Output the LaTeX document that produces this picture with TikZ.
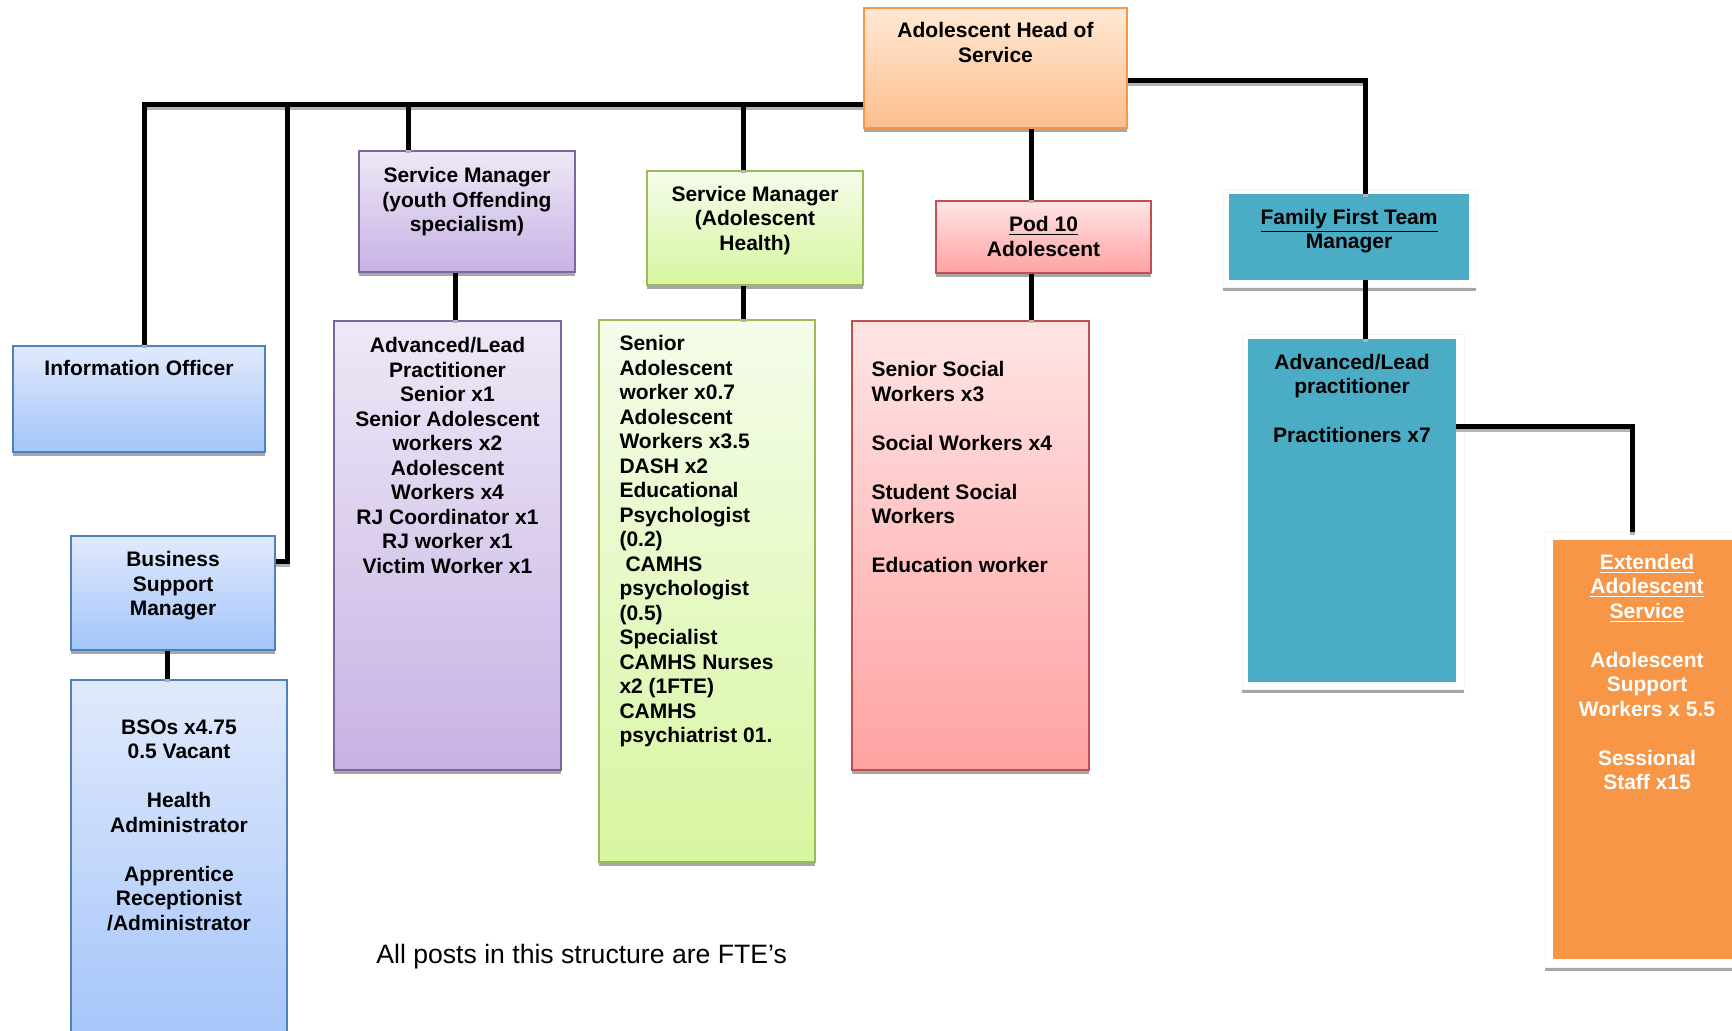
\documentclass[tikz,border=0pt]{standalone}
\usepackage{fontspec}
\setmainfont{Liberation Sans}
\usetikzlibrary{fit}
\definecolor{headTop}{RGB}{255,232,212}
\definecolor{headBot}{RGB}{252,190,140}
\definecolor{headLine}{RGB}{247,150,70}
\definecolor{blueTop}{RGB}{224,234,252}
\definecolor{blueBot}{RGB}{164,196,250}
\definecolor{blueLine}{RGB}{79,129,189}
\definecolor{purTop}{RGB}{238,232,246}
\definecolor{purBot}{RGB}{199,178,228}
\definecolor{purLine}{RGB}{128,100,162}
\definecolor{grnTop}{RGB}{245,252,234}
\definecolor{grnBot}{RGB}{215,246,160}
\definecolor{grnLine}{RGB}{155,187,89}
\definecolor{pnkTop}{RGB}{255,228,228}
\definecolor{pnkBot}{RGB}{255,162,162}
\definecolor{pnkLine}{RGB}{192,80,77}
\definecolor{teal}{RGB}{75,172,198}
\definecolor{easOrange}{RGB}{247,150,70}
\begin{document}
\begin{tikzpicture}[x=0.5pt,y=-0.5pt,
  shadowed/.style={preaction={fill=black!35,transform canvas={yshift=-2pt}}},
  box/.style={draw,line width=0.9pt,inner sep=0pt,shadowed},
  headbox/.style={box,draw=headLine,top color=headTop,bottom color=headBot},
  bluebox/.style={box,draw=blueLine,top color=blueTop,bottom color=blueBot},
  purbox/.style={box,draw=purLine,top color=purTop,bottom color=purBot},
  grnbox/.style={box,draw=grnLine,top color=grnTop,bottom color=grnBot},
  pnkbox/.style={box,draw=pnkLine,top color=pnkTop,bottom color=pnkBot},
  framebox/.style={inner sep=0pt,fill=white,draw=black!4,line width=0.3pt,shadowed},
  tealbox/.style={inner sep=0pt,fill=teal},
  orangebox/.style={inner sep=0pt,fill=easOrange},
  txt/.style={font=\fontsize{10.5pt}{12.25pt}\selectfont\bfseries,align=center,inner sep=0pt,anchor=north},
  ltxt/.style={font=\fontsize{10.5pt}{12.25pt}\selectfont\bfseries,align=left,inner sep=0pt,anchor=north west},
  conn/.style={line width=2.5pt,line join=miter,preaction={draw=black!30,line width=2.5pt,transform canvas={yshift=-1.5pt}}}
]
\useasboundingbox (0,0) rectangle (1732,1030);

% boxes
\node[headbox,fit={(864,8)(1127,128)}] (head) {};
\node[bluebox,fit={(13,346)(265,452)}] (info) {};
\node[bluebox,fit={(71,536)(275,650)}] (bsm) {};
\node[bluebox,fit={(71,680)(287,1045)}] (bso) {};
\node[purbox,fit={(359,151)(575,272)}] (smyo) {};
\node[purbox,fit={(334,321)(561,770)}] (pb) {};
\node[grnbox,fit={(647,171)(863,285)}] (gsm) {};
\node[grnbox,fit={(599,320)(815,862)}] (gb) {};
\node[pnkbox,fit={(936,201)(1151,273)}] (pod) {};
\node[pnkbox,fit={(852,321)(1089,770)}] (pink) {};
\node[framebox,fit={(1223,189)(1476,287)}] (fftf) {};
\node[tealbox,fit={(1229,194)(1469,280)}] (fft) {};
\node[framebox,fit={(1242,334)(1464,689)}] (fftbf) {};
\node[tealbox,fit={(1248,339)(1456,682)}] (fftb) {};
\node[framebox,fit={(1545,532)(1745,967)}] (easf) {};
\node[orangebox,fit={(1553,540)(1745,959)}] (eas) {};

% texts
\node[txt] (headT) at ([yshift=-7.6pt]head.north) {Adolescent Head of\\Service};
\node[txt] (infoT) at ([yshift=-7.6pt]info.north) {Information Officer};
\node[txt] (bsmT) at ([yshift=-8pt]bsm.north) {Business\\Support\\Manager};
\node[txt] (bsoT) at ([yshift=-20pt]bso.north) {BSOs x4.75\\0.5 Vacant\\[12.25pt]Health\\Administrator\\[12.25pt]Apprentice\\Receptionist\\/Administrator};
\node[txt] (smyoT) at ([yshift=-8.5pt]smyo.north) {Service Manager\\(youth Offending\\specialism)};
\node[txt] (pbT) at ([yshift=-8.5pt]pb.north) {Advanced/Lead\\Practitioner\\Senior x1\\Senior Adolescent\\workers x2\\Adolescent\\Workers x4\\RJ Coordinator x1\\RJ worker x1\\Victim Worker x1};
\node[txt] (gsmT) at ([yshift=-7.8pt]gsm.north) {Service Manager\\(Adolescent\\Health)};
\node[ltxt] (gbT) at ([xshift=10.5pt,yshift=-8pt]gb.north west) {Senior\\Adolescent\\worker x0.7\\Adolescent\\Workers x3.5\\DASH x2\\Educational\\Psychologist\\(0.2)\\\hspace{3pt}CAMHS\\psychologist\\(0.5)\\Specialist\\CAMHS Nurses\\x2 (1FTE)\\CAMHS\\psychiatrist 01.};
\node[txt] (podT) at ([yshift=-8pt]pod.north) {\underline{Pod 10}\\Adolescent};
\node[ltxt] (pinkT) at ([xshift=10pt,yshift=-20.6pt]pink.north west) {Senior Social\\Workers x3\\[12.25pt]Social Workers x4\\[12.25pt]Student Social\\Workers\\[12.25pt]Education worker};
\node[txt] (fftT) at ([yshift=-7.5pt]fft.north) {\underline{Family First Team}\\Manager};
\node[txt] (fftbT) at ([yshift=-7.5pt]fftb.north) {Advanced/Lead\\practitioner\\[12.25pt]Practitioners x7};
\node[txt,text=white] (easT) at ([xshift=-1pt,yshift=-7pt]eas.north) {\underline{Extended}\\\underline{Adolescent}\\\underline{Service}\\[12.25pt]Adolescent\\Support\\Workers x 5.5\\[12.25pt]Sessional\\Staff x15};
\node[font=\fontsize{13.3pt}{15pt}\selectfont,inner sep=0pt,anchor=west] (note) at (376,957) {All posts in this structure are FTE’s};

% connector coordinates
\coordinate (bus) at (144,104);
\coordinate (tapB) at (287,104);
\coordinate (bsmj) at (287,561);
\coordinate (tapS) at (408,104);
\coordinate (tapG) at (743,104);
\coordinate (tapP) at (1031,104);
\coordinate (fftj) at (1365,80);
\coordinate (easj) at (1632,426);

% connectors
\draw[conn] (head.west |- bus) -- (bus) -- (bus |- info.north);
\draw[conn] (tapB) -- (bsmj) -- (bsm.east |- bsmj);
\draw[conn] (bsm.south -| 167,0) -- (bso.north -| 167,0);
\draw[conn] (tapS) -- (tapS |- smyo.north);
\draw[conn] (smyo.south -| 455,0) -- (pb.north -| 455,0);
\draw[conn] (tapG) -- (tapG |- gsm.north);
\draw[conn] (gsm.south -| tapG) -- (gb.north -| tapG);
\draw[conn] (head.south -| tapP) -- (pod.north -| tapP);
\draw[conn] (pod.south -| tapP) -- (pink.north -| tapP);
\draw[conn] (head.east |- fftj) -- (fftj) -- (fftj |- fft.north);
\draw[conn] (fft.south -| fftj) -- (fftb.north -| fftj);
\draw[conn] (fftb.east |- easj) -- (easj) -- (easj |- easf.north);
\end{tikzpicture}
\end{document}
